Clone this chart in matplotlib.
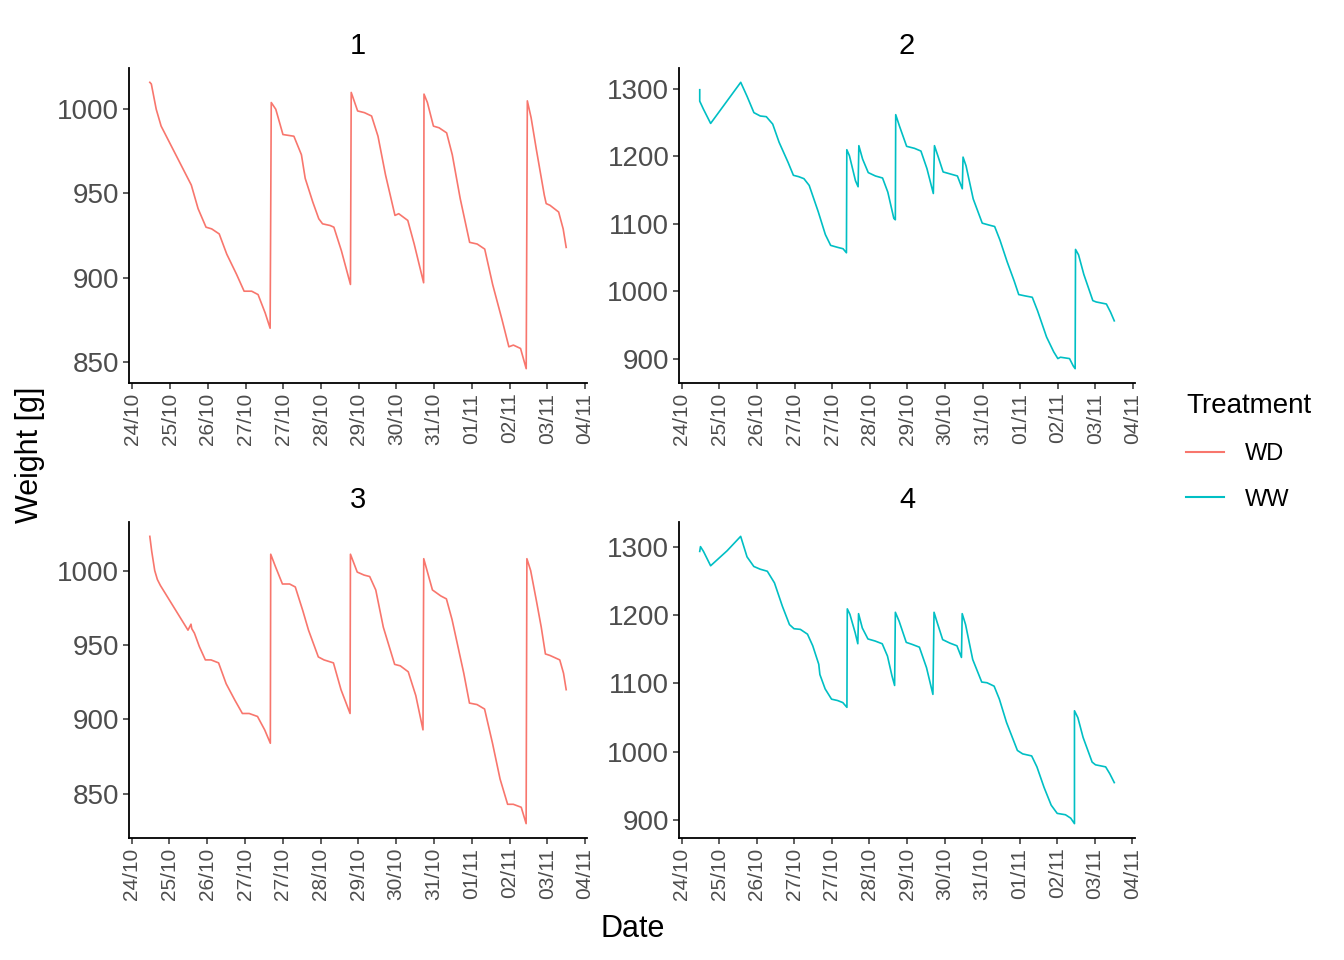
import matplotlib
matplotlib.use("Agg")
import matplotlib.pyplot as plt
from matplotlib.lines import Line2D

plt.rcParams['font.family'] = ['Liberation Sans', 'DejaVu Sans']

# x positions are days after 24/10 00:00 (tick index)
tick_labels = ["24/10", "25/10", "26/10", "27/10", "27/10", "28/10", "29/10",
               "30/10", "31/10", "01/11", "02/11", "03/11", "04/11"]

p1_day = [0.46, 0.50, 0.63, 0.76, 1.56, 1.74, 1.95, 2.10, 2.30, 2.50, 2.76, 2.96, 3.16, 3.33,
          3.52, 3.65, 3.68, 3.80, 3.99, 4.28, 4.48, 4.58, 4.78, 4.94, 5.04, 5.24, 5.34, 5.54,
          5.78, 5.80, 5.97, 6.15, 6.34, 6.51, 6.71, 6.96, 7.06, 7.30, 7.47, 7.72, 7.73, 7.82,
          7.98, 8.13, 8.33, 8.48, 8.69, 8.94, 9.14, 9.34, 9.55, 9.80, 9.98, 10.10, 10.29,
          10.44, 10.47, 10.57, 10.71, 10.92, 10.97, 11.07, 11.30, 11.42, 11.50]
p1_wt = [1016, 1015, 1000, 990, 955, 941, 930, 929, 926, 914, 902, 892, 892, 890,
         879, 870, 1004, 1000, 985, 984, 973, 959, 945, 935, 932, 931, 930, 916,
         896, 1010, 999, 998, 996, 984, 961, 937, 938, 934, 920, 897, 1009, 1004,
         990, 989, 986, 973, 947, 921, 920, 917, 896, 875, 859, 860, 858,
         846, 1005, 995, 976, 949, 944, 943, 939, 929, 918]

p2_day = [0.48, 0.48, 0.58, 0.77, 1.57, 1.74, 1.92, 2.09, 2.25, 2.42, 2.59, 2.83, 2.97, 3.11,
          3.25, 3.39, 3.63, 3.82, 3.96, 4.15, 4.29, 4.38, 4.39, 4.46, 4.62, 4.69, 4.71, 4.81,
          4.96, 5.15, 5.34, 5.48, 5.64, 5.68, 5.69, 5.79, 5.98, 6.19, 6.36, 6.52, 6.69, 6.72,
          6.81, 6.95, 7.14, 7.33, 7.46, 7.48, 7.56, 7.75, 7.99, 8.18, 8.32, 8.46, 8.65, 8.84,
          8.96, 9.13, 9.32, 9.46, 9.70, 9.89, 10.00, 10.07, 10.31, 10.41, 10.46, 10.47, 10.55,
          10.69, 10.93, 11.02, 11.29, 11.40, 11.50]
p2_wt = [1299, 1282, 1270, 1249, 1310, 1289, 1265, 1260, 1259, 1248, 1221, 1191, 1172, 1170,
         1167, 1157, 1118, 1084, 1068, 1065, 1063, 1057, 1210, 1201, 1164, 1155, 1216, 1196,
         1176, 1171, 1168, 1147, 1108, 1106, 1262, 1245, 1215, 1212, 1208, 1182, 1145, 1216,
         1201, 1177, 1174, 1171, 1152, 1199, 1186, 1137, 1101, 1098, 1096, 1076, 1044, 1015,
         995, 993, 991, 971, 932, 910, 900, 902, 900, 889, 885, 1062, 1054,
         1025, 986, 984, 981, 969, 956]

p3_day = [0.48, 0.53, 0.61, 0.68, 0.76, 1.49, 1.57, 1.59, 1.66, 1.79, 1.95, 2.10, 2.30, 2.50,
          2.73, 2.93, 3.11, 3.33, 3.52, 3.67, 3.68, 3.80, 3.99, 4.18, 4.33, 4.53, 4.68, 4.94,
          5.09, 5.34, 5.54, 5.78, 5.79, 5.97, 6.15, 6.30, 6.46, 6.66, 6.96, 7.11, 7.32, 7.52,
          7.71, 7.73, 7.96, 8.18, 8.33, 8.48, 8.79, 8.94, 9.14, 9.34, 9.55, 9.75, 9.95, 10.10,
          10.31, 10.44, 10.46, 10.56, 10.71, 10.84, 10.95, 11.07, 11.33, 11.43, 11.50]
p3_wt = [1023, 1013, 1000, 994, 990, 960, 964, 961, 958, 949, 940, 940, 938, 924,
         913, 904, 904, 902, 893, 884, 1011, 1003, 991, 991, 989, 973, 960, 942,
         940, 938, 920, 904, 1011, 999, 997, 996, 987, 962, 937, 936, 932, 916,
         893, 1008, 987, 983, 981, 967, 931, 911, 910, 907, 884, 860, 843, 843,
         841, 830, 1008, 1000, 980, 962, 944, 943, 940, 931, 920]

p4_day = [0.48, 0.50, 0.58, 0.77, 1.21, 1.57, 1.74, 1.92, 2.09, 2.28, 2.47, 2.68, 2.87, 2.99,
          3.16, 3.35, 3.49, 3.65, 3.68, 3.82, 3.99, 4.15, 4.29, 4.40, 4.41, 4.48, 4.62, 4.69,
          4.71, 4.81, 4.96, 5.15, 5.34, 5.48, 5.60, 5.67, 5.69, 5.79, 5.98, 6.14, 6.33, 6.52,
          6.69, 6.72, 6.81, 6.95, 7.14, 7.33, 7.45, 7.47, 7.56, 7.75, 7.99, 8.13, 8.32, 8.46,
          8.65, 8.94, 9.08, 9.32, 9.46, 9.65, 9.84, 10.00, 10.22, 10.36, 10.46, 10.46, 10.55,
          10.69, 10.93, 11.02, 11.29, 11.40, 11.52]
p4_wt = [1293, 1300, 1293, 1272, 1294, 1315, 1285, 1271, 1267, 1264, 1247, 1213, 1186, 1180,
         1179, 1172, 1155, 1128, 1113, 1092, 1077, 1075, 1072, 1065, 1209, 1201, 1174, 1158,
         1202, 1181, 1165, 1162, 1158, 1140, 1111, 1097, 1204, 1191, 1160, 1157, 1153, 1123,
         1084, 1204, 1188, 1164, 1159, 1155, 1138, 1202, 1186, 1135, 1102, 1101, 1096, 1077,
         1043, 1002, 997, 994, 978, 948, 922, 910, 908, 903, 895, 1060, 1050,
         1021, 985, 981, 978, 968, 955]

panels = ["1", "2", "3", "4"]
treatments = ["WD", "WW", "WD", "WW"]
colors = {"WD": "#F8766D", "WW": "#00BFC4"}
days = [p1_day, p2_day, p3_day, p4_day]
weights = [p1_wt, p2_wt, p3_wt, p4_wt]
yticks = [[850, 900, 950, 1000], [900, 1000, 1100, 1200, 1300],
          [850, 900, 950, 1000], [900, 1000, 1100, 1200, 1300]]

W, H = 1344, 960
fig = plt.figure(figsize=(W / 100, H / 100), dpi=100)

boxes = [(129, 68, 587, 383), (679, 68, 1135, 383),
         (129, 522, 587, 838), (679, 522, 1135, 838)]

for i in range(4):
    x0, y0, x1, y1 = boxes[i]
    ax = fig.add_axes([x0 / W, 1 - y1 / H, (x1 - x0) / W, (y1 - y0) / H])
    ax.plot(days[i], weights[i], color=colors[treatments[i]], lw=1.2)
    ax.margins(x=0.05, y=0.05)
    ax.set_xticks(range(len(tick_labels)))
    ax.set_xticklabels(tick_labels, rotation=90, fontsize=15, color="#4D4D4D")
    ax.set_yticks(yticks[i])
    ax.tick_params(axis="y", labelsize=20, labelcolor="#4D4D4D")
    ax.tick_params(length=4, width=1.1, color="#333333", pad=3)
    for s in ["top", "right"]:
        ax.spines[s].set_visible(False)
    for s in ["left", "bottom"]:
        ax.spines[s].set_linewidth(1.3)
    ax.set_title(panels[i], fontsize=21, pad=10)

fig.text(633 / W, 1 - 929 / H, "Date", fontsize=22, ha="center", va="center")
fig.text(30 / W, 1 - 455 / H, "Weight [g]", fontsize=22, ha="center", va="center", rotation=90)

handles = [Line2D([0], [0], color=colors[t], lw=1.5) for t in ["WD", "WW"]]
leg = fig.legend(handles, ["WD", "WW"], title="Treatment", loc="center left",
                 bbox_to_anchor=(1165 / W, 1 - 452 / H), frameon=False, fontsize=17,
                 title_fontsize=20, handlelength=1.6, labelspacing=1.0, handletextpad=0.9)
leg._legend_box.align = "left"

fig.savefig("out.png", dpi=100)
